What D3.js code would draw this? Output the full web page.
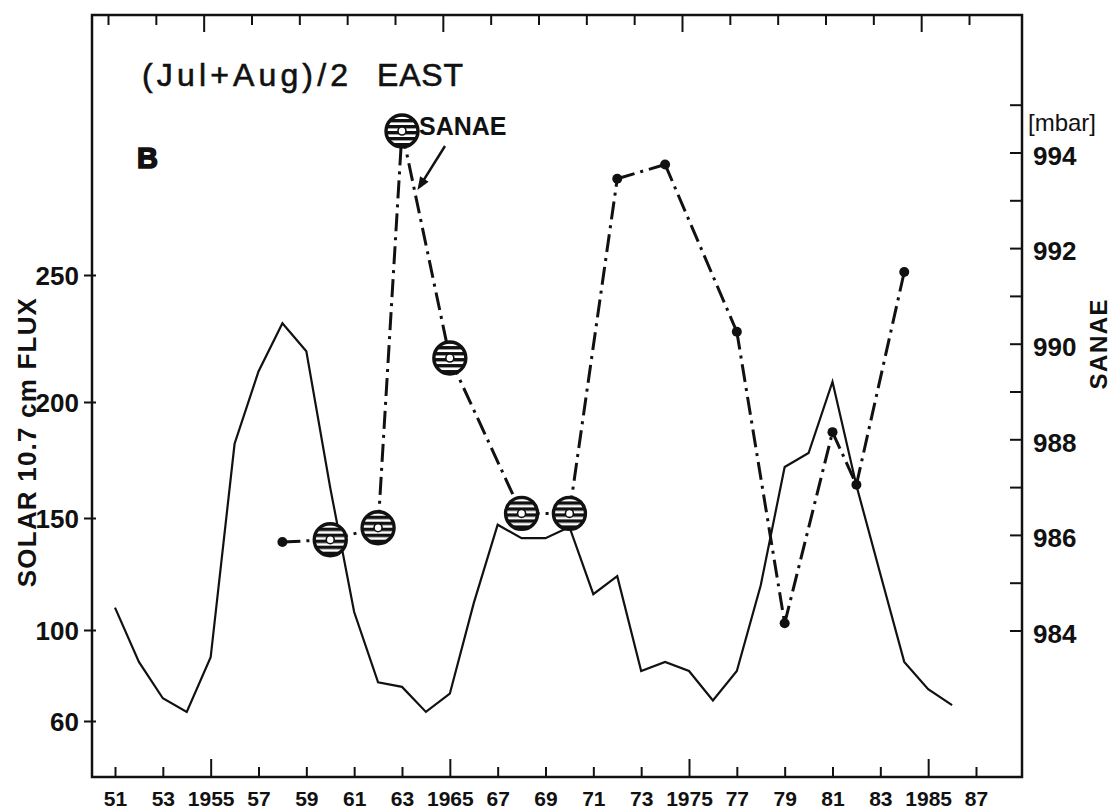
<!DOCTYPE html>
<html>
<head>
<meta charset="utf-8">
<script src="https://cdn.jsdelivr.net/npm/d3@7"></script>
<style>
  html, body { margin: 0; padding: 0; background: #fff; }
  svg text { font-family: "Liberation Sans", Arial, Helvetica, sans-serif; fill: #111; }
</style>
</head>
<body>
<svg id="chart" width="1113" height="810"></svg>
<script>
/* ── Data ── */
var fluxYears  = [1951, 1952, 1953, 1954, 1955, 1956, 1957, 1958, 1959, 1960, 1961, 1962,
                  1963, 1964, 1965, 1966, 1967, 1968, 1969, 1970, 1971, 1972, 1973, 1974,
                  1975, 1976, 1977, 1978, 1979, 1980, 1981, 1982, 1983, 1984, 1985, 1986];
var fluxValues = [110, 86, 70, 64, 88, 182, 212, 231, 220, 163, 108, 77,
                  75, 64, 72, 112, 147, 141, 141, 146, 116, 124, 82, 86,
                  82, 69, 82, 120, 172, 178, 208, 164, 125, 86, 74, 67];

var sanaeYears  = [1958, 1960, 1962, 1963, 1965, 1968, 1970, 1972, 1974, 1977, 1979, 1981, 1982, 1984];
var sanaeValues = [985.85, 985.9, 986.15, 994.45, 989.7, 986.45, 986.45, 993.45, 993.75, 990.25, 984.15, 988.15, 987.05, 991.5];
var ringYears   = [1960, 1962, 1963, 1965, 1968, 1970];   /* hatched-circle points */

var xTickYears  = [1951, 1953, 1955, 1957, 1959, 1961, 1963, 1965, 1967, 1969,
                   1971, 1973, 1975, 1977, 1979, 1981, 1983, 1985, 1987];
var xTickLabels = ['51', '53', '1955', '57', '59', '61', '63', '1965', '67', '69',
                   '71', '73', '1975', '77', '79', '81', '83', '1985', '87'];
var fluxTicks   = [60, 100, 150, 200, 250];
var pressTicks  = [984, 985, 986, 987, 988, 989, 990, 991, 992, 993, 994, 995];
var pressLabels = [984, 986, 988, 990, 992, 994];

(function () {
  'use strict';

  var svg = d3.select('#chart');
  var INK = '#111';
  var L = 92, R = 1022, T = 15, B = 777;

  /* ── Scales ── */
  var x = d3.scaleLinear().domain([1951, 1987]).range([115, 976]);
  /* hand-drawn flux axis: ticks not evenly spaced */
  var yFlux = d3.scaleLinear().domain(fluxTicks).range([721, 630, 518, 402, 275]);
  var yP = d3.scaleLinear().domain([984, 994]).range([630.5, 152.5]);

  /* ── Hatch pattern for the ring markers ── */
  var defs = svg.append('defs');
  var pat = defs.append('pattern')
    .attr('id', 'hatch')
    .attr('patternUnits', 'userSpaceOnUse')
    .attr('width', 6).attr('height', 6);
  pat.append('rect').attr('width', 6).attr('height', 6).attr('fill', '#fff');
  pat.append('rect').attr('width', 6).attr('height', 3.4).attr('fill', INK);

  /* ── Frame ── */
  svg.append('rect')
    .attr('x', L).attr('y', T)
    .attr('width', R - L).attr('height', B - T)
    .attr('fill', 'none')
    .attr('stroke', INK)
    .attr('stroke-width', 2.5);

  /* ── Bottom axis (ticks point inward) ── */
  var gB = svg.append('g')
    .attr('transform', 'translate(0,' + B + ')')
    .call(d3.axisBottom(x)
      .tickValues(xTickYears)
      .tickSize(-10)
      .tickPadding(14)
      .tickFormat(function (d, i) { return xTickLabels[i]; }));
  gB.select('.domain').remove();
  gB.selectAll('.tick line')
    .attr('y2', function (d) { return d % 10 === 5 ? -18 : -10; })
    .attr('stroke', INK).attr('stroke-width', 2);
  gB.selectAll('.tick text')
    .attr('font-size', 21).attr('font-weight', 'bold');

  /* ── Top axis (no labels, drawn slightly offset as in the original) ── */
  var gT = svg.append('g')
    .attr('transform', 'translate(-7,' + T + ')')
    .call(d3.axisTop(x).tickValues(xTickYears).tickSize(-10).tickFormat(''));
  gT.select('.domain').remove();
  gT.selectAll('.tick line')
    .attr('y2', function (d) { return d % 10 === 5 ? 17 : 10; })
    .attr('stroke', INK).attr('stroke-width', 2);

  /* ── Left axis: solar flux ── */
  var gL = svg.append('g')
    .attr('transform', 'translate(' + L + ',0)')
    .call(d3.axisLeft(yFlux).tickValues(fluxTicks).tickSize(8).tickPadding(5));
  gL.select('.domain').remove();
  gL.selectAll('.tick line').attr('x1', 4).attr('stroke', INK).attr('stroke-width', 2);
  gL.selectAll('.tick text').attr('font-size', 26).attr('font-weight', 'bold').attr('dy', '0.36em');

  /* ── Right axis: SANAE pressure ── */
  var gR = svg.append('g')
    .attr('transform', 'translate(' + R + ',0)')
    .call(d3.axisRight(yP)
      .tickValues(pressTicks)
      .tickSize(-12)
      .tickPadding(11)
      .tickFormat(function (d) { return pressLabels.indexOf(d) >= 0 ? d : ''; }));
  gR.select('.domain').remove();
  gR.selectAll('.tick line').attr('stroke', INK).attr('stroke-width', 2);
  gR.selectAll('.tick text').attr('font-size', 26).attr('font-weight', 'bold').attr('dy', '0.45em');

  /* ── Axis titles ── */
  svg.append('text')
    .attr('transform', 'translate(36,442) rotate(-90)')
    .attr('text-anchor', 'middle')
    .attr('font-size', 26).attr('font-weight', 'bold')
    .attr('letter-spacing', 1.2)
    .text('SOLAR 10.7 cm FLUX');

  svg.append('text')
    .attr('transform', 'translate(1107,' + yP(990) + ') rotate(-90)')
    .attr('text-anchor', 'middle')
    .attr('font-size', 24).attr('font-weight', 'bold')
    .attr('letter-spacing', 1.5)
    .text('SANAE');

  svg.append('text')
    .attr('x', 1028).attr('y', 131)
    .attr('font-size', 24)
    .text('[mbar]');

  /* ── Heading and panel letter ── */
  svg.append('text')
    .attr('x', 142).attr('y', 86)
    .attr('font-size', 32)
    .attr('stroke', INK).attr('stroke-width', 0.6)
    .attr('textLength', 206).attr('lengthAdjust', 'spacing')
    .text('(Jul+Aug)/2');
  svg.append('text')
    .attr('x', 377).attr('y', 86)
    .attr('font-size', 32)
    .attr('stroke', INK).attr('stroke-width', 0.6)
    .attr('textLength', 86).attr('lengthAdjust', 'spacing')
    .text('EAST');

  svg.append('text')
    .attr('x', 137).attr('y', 168)
    .attr('font-size', 29).attr('font-weight', 'bold')
    .attr('stroke', INK).attr('stroke-width', 1.6)
    .text('B');

  /* ── Solar flux: solid line ── */
  var fluxPts = d3.zip(fluxYears, fluxValues);
  svg.append('path')
    .datum(fluxPts)
    .attr('d', d3.line()
      .x(function (d) { return x(d[0]); })
      .y(function (d) { return yFlux(d[1]); }))
    .attr('fill', 'none')
    .attr('stroke', INK)
    .attr('stroke-width', 2.2)
    .attr('stroke-linejoin', 'miter');

  /* ── SANAE: dash-dot segments between consecutive points ── */
  var sanaePts = d3.zip(sanaeYears, sanaeValues);
  var segLine = d3.line()
    .x(function (d) { return x(d[0]); })
    .y(function (d) { return yP(d[1]); });
  var segs = d3.pairs(sanaePts);
  svg.append('g')
    .selectAll('path')
    .data(segs)
    .join('path')
    .attr('d', segLine)
    .attr('fill', 'none')
    .attr('stroke', INK)
    .attr('stroke-width', 3)
    .attr('stroke-dasharray', '18 6 3 6');

  /* ── SANAE markers ── */
  var mk = svg.append('g')
    .selectAll('g')
    .data(sanaePts)
    .join('g')
    .attr('transform', function (d) { return 'translate(' + x(d[0]) + ',' + yP(d[1]) + ')'; });

  mk.filter(function (d) { return ringYears.indexOf(d[0]) < 0; })
    .append('circle')
    .attr('r', 5)
    .attr('fill', INK);

  var rings = mk.filter(function (d) { return ringYears.indexOf(d[0]) >= 0; });
  rings.append('circle')
    .attr('r', 16)
    .attr('fill', 'url(#hatch)')
    .attr('stroke', INK)
    .attr('stroke-width', 3.4);
  rings.append('circle')
    .attr('r', 4)
    .attr('fill', '#fff')
    .attr('stroke', INK)
    .attr('stroke-width', 1.6);

  /* ── "SANAE" label with arrow to the 1963–65 segment ── */
  var p63 = sanaePts[3], p65 = sanaePts[4];
  var lx = x(p63[0]) + 17, ly = yP(p63[1]) + 4;
  svg.append('text')
    .attr('x', lx).attr('y', ly)
    .attr('font-size', 25).attr('font-weight', 'bold')
    .text('SANAE');

  var t = 0.26;
  var tipX = x(p63[0]) + t * (x(p65[0]) - x(p63[0])) + 3;
  var tipY = yP(p63[1]) + t * (yP(p65[1]) - yP(p63[1]));
  var tailX = lx + 26, tailY = ly + 11;
  var ang = Math.atan2(tipY - tailY, tipX - tailX);
  var hl = 13, hw = 5;
  svg.append('line')
    .attr('x1', tailX).attr('y1', tailY)
    .attr('x2', tipX - Math.cos(ang) * 8).attr('y2', tipY - Math.sin(ang) * 8)
    .attr('stroke', INK).attr('stroke-width', 2.4);
  svg.append('path')
    .attr('d', 'M' + tipX + ',' + tipY +
      ' L' + (tipX - hl * Math.cos(ang) + hw * Math.sin(ang)) + ',' + (tipY - hl * Math.sin(ang) - hw * Math.cos(ang)) +
      ' L' + (tipX - hl * Math.cos(ang) - hw * Math.sin(ang)) + ',' + (tipY - hl * Math.sin(ang) + hw * Math.cos(ang)) + ' Z')
    .attr('fill', INK);
})();
</script>
</body>
</html>
